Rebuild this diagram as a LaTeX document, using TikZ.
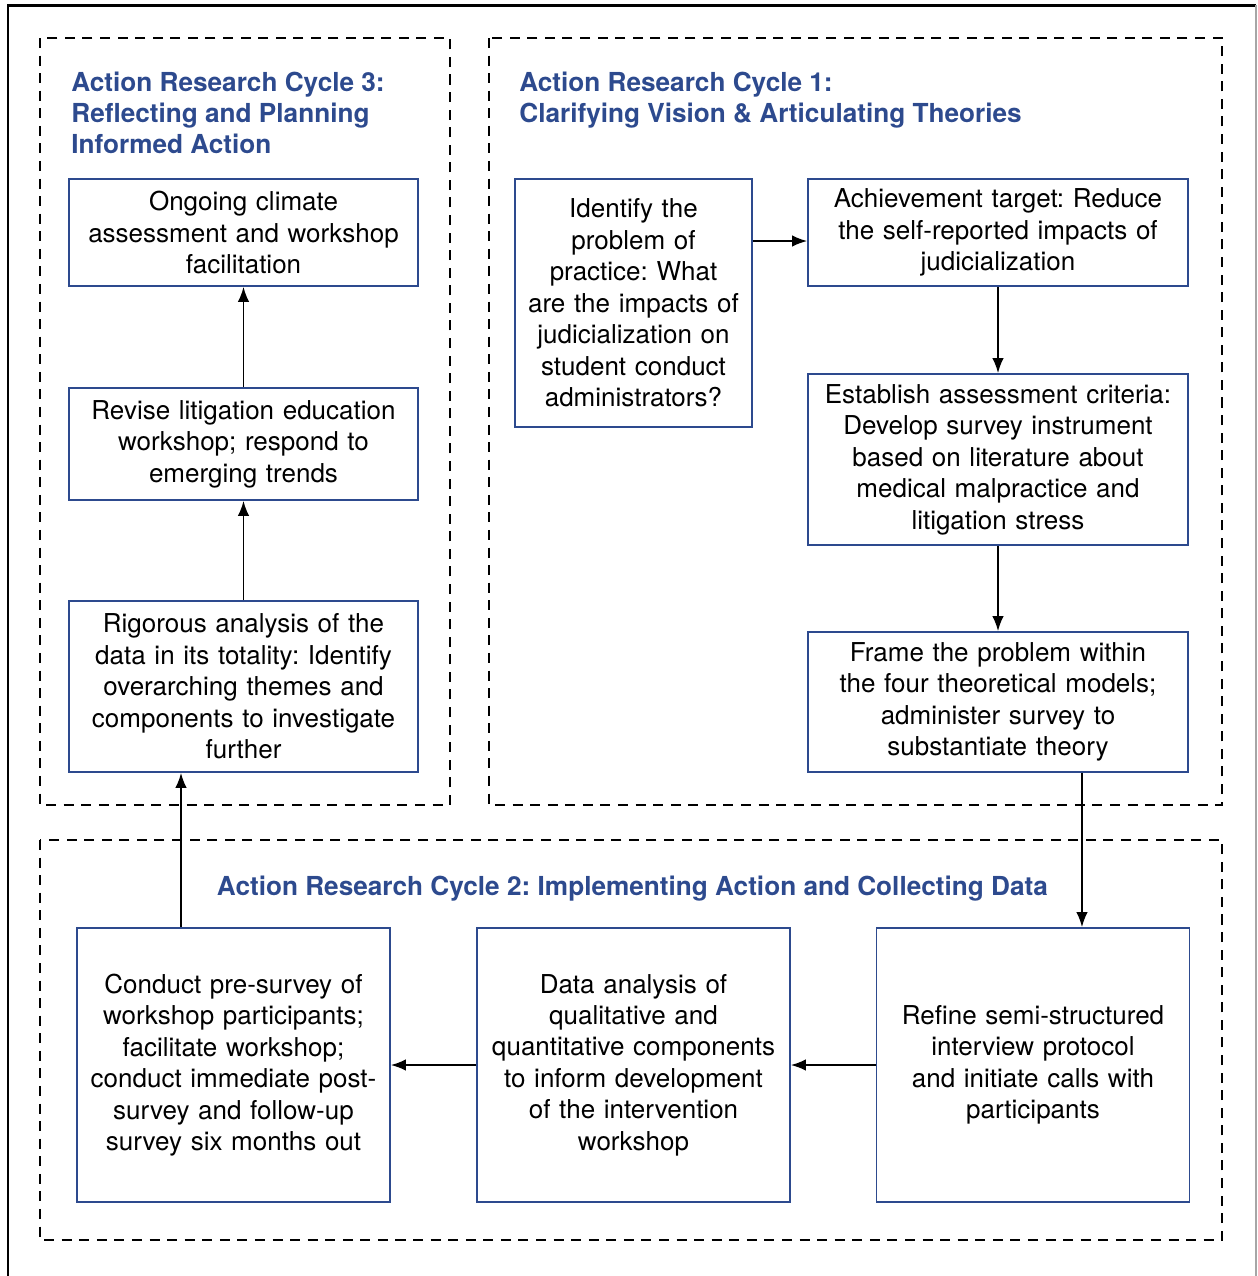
\documentclass[tikz,border=0pt]{standalone}
\usepackage{fontspec}
\setmainfont{TeX Gyre Heros}
\usepackage{tikz}
\usetikzlibrary{arrows.meta}
\definecolor{arblue}{HTML}{2D4A8E}
\frenchspacing

\begin{document}
\begin{tikzpicture}[x = 0.02cm, y = -0.02cm,
  cyclebox/.style = {draw = arblue, line width = 1pt, inner sep = 0pt, align = center,
    font = \fontsize{14.8}{17.9}\selectfont},
  grp/.style = {line width = 1.2pt, dash pattern = on 5.7pt off 4.3pt},
  ttl/.style = {text = arblue, inner sep = 0pt, font = \fontsize{14.9}{17.6}\selectfont\bfseries},
  arr/.style = {line width = 1pt, -{Latex[length = 8.5pt, width = 6.5pt]}}]

\useasboundingbox (0,0) rectangle (1258,1276);
\draw[line width = 1.7pt] (8,1276)--(8,5)--(1256,5);
\draw[black!35, line width = 0.6pt] (1256,5)--(1256,1276);

\draw[grp] (40,38) rectangle (450,805);
\draw[grp] (489,38) rectangle (1222,805);
\draw[grp] (40,840) rectangle (1222,1240);

\node[ttl, anchor = north west, align = left] (t3) at (71,72) {Action Research Cycle 3:\\Reflecting and Planning\\Informed Action};
\node[ttl, anchor = north west, align = left] (t1) at (519,72) {Action Research Cycle 1:\\Clarifying Vision \& Articulating Theories};
\node[ttl, anchor = base] (t2) at (632.5,895) {Action Research Cycle 2: Implementing Action and Collecting Data};

\node[cyclebox, minimum width = 6.98cm, minimum height = 2.14cm, text width = 6.7cm] (c3a) at (243.5,232.5) {Ongoing climate\\assessment and workshop\\facilitation};
\node[cyclebox, minimum width = 6.98cm, minimum height = 2.24cm, text width = 6.7cm] (c3b) at (243.5,444) {Revise litigation education\\workshop; respond to\\emerging trends};
\node[cyclebox, minimum width = 6.98cm, minimum height = 3.42cm, text width = 6.7cm] (c3c) at (243.5,686.5) {Rigorous analysis of the\\data in its totality: Identify\\overarching themes and\\components to investigate\\further};

\node[cyclebox, minimum width = 4.74cm, minimum height = 4.96cm, text width = 4.5cm] (c1a) at (633.5,303) {Identify the\\problem of\\practice: What\\are the impacts of\\judicialization on\\student conduct\\administrators?};
\node[cyclebox, minimum width = 7.6cm, minimum height = 2.14cm, text width = 7.3cm] (c1b) at (998,232.5) {Achievement target: Reduce\\the self-reported impacts of\\judicialization};
\node[cyclebox, minimum width = 7.6cm, minimum height = 3.42cm, text width = 7.3cm] (c1c) at (998,459.5) {Establish assessment criteria:\\Develop survey instrument\\based on literature about\\medical malpractice and\\litigation stress};
\node[cyclebox, minimum width = 7.6cm, minimum height = 2.8cm, text width = 7.3cm] (c1d) at (998,702) {Frame the problem within\\the four theoretical models;\\administer survey to\\substantiate theory};

\node[cyclebox, minimum width = 6.26cm, minimum height = 5.48cm, text width = 6cm] (c2a) at (233.5,1065) {Conduct pre-survey of\\workshop participants;\\facilitate workshop;\\conduct immediate post-\\survey and follow-up\\survey six months out};
\node[cyclebox, minimum width = 6.26cm, minimum height = 5.48cm, text width = 6cm] (c2b) at (633.5,1065) {Data analysis of\\qualitative and\\quantitative components\\to inform development\\of the intervention\\workshop};
\node[cyclebox, minimum width = 6.26cm, minimum height = 5.48cm, text width = 6cm] (c2c) at (1033,1065) {Refine semi-structured\\interview protocol\\and initiate calls with\\participants};

\coordinate (p1) at ([yshift = -0.17cm]c1b.west);
\coordinate (p2) at ([xshift = 0.98cm]c2c.north);
\coordinate (p3) at ([xshift = -1.05cm]c2a.north);

\draw[arr] (c1a.east |- p1)--(p1);
\draw[arr] (c1b.south)--(c1c.north);
\draw[arr] (c1c.south)--(c1d.north);
\draw[arr] (p2 |- c1d.south)--(p2);
\draw[arr] (c2c.west)--(c2b.east);
\draw[arr] (c2b.west)--(c2a.east);
\draw[arr] (p3)--(p3 |- c3c.south);
\draw[arr] (c3c.north)--(c3b.south);
\draw[arr] (c3b.north)--(c3a.south);
\end{tikzpicture}
\end{document}
